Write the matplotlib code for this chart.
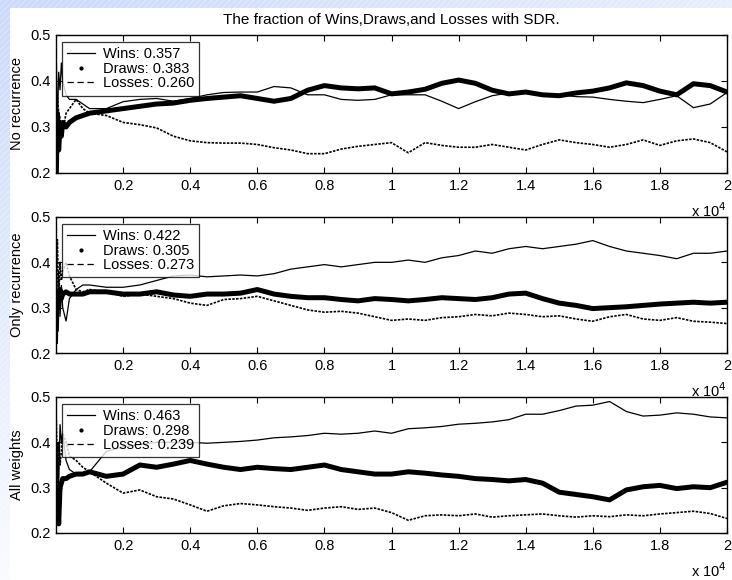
import numpy as np
import matplotlib
matplotlib.use("Agg")
import matplotlib.pyplot as plt
from matplotlib.lines import Line2D
from matplotlib.patches import Rectangle

# ---------------- data ----------------
games = [10, 40, 80, 120, 160, 200, 300, 400, 600, 800, 1000,
         1500, 2000, 2500, 3000, 3500, 4000, 4500, 5000, 5500, 6000,
         6500, 7000, 7500, 8000, 8500, 9000, 9500, 10000, 10500, 11000,
         11500, 12000, 12500, 13000, 13500, 14000, 14500, 15000, 15500, 16000,
         16500, 17000, 17500, 18000, 18500, 19000, 19500, 20000]

panel_names = ["No recurrence", "Only recurrence", "All weights"]
legend_wins = [0.357, 0.422, 0.463]
legend_draws = [0.383, 0.305, 0.298]
legend_losses = [0.260, 0.273, 0.239]

wins_no_rec = [0.45, 0.30, 0.42, 0.38, 0.44, 0.40, 0.37, 0.36, 0.36, 0.35, 0.34,
               0.34, 0.355, 0.36, 0.362, 0.356, 0.362, 0.37, 0.375, 0.376, 0.376,
               0.388, 0.385, 0.37, 0.37, 0.36, 0.358, 0.36, 0.37, 0.37, 0.37,
               0.356, 0.34, 0.355, 0.368, 0.374, 0.375, 0.372, 0.37, 0.366, 0.365,
               0.36, 0.356, 0.353, 0.36, 0.368, 0.342, 0.35, 0.375]
draws_no_rec = [0.20, 0.33, 0.25, 0.30, 0.28, 0.31, 0.30, 0.31, 0.32, 0.325, 0.33,
                0.335, 0.34, 0.345, 0.35, 0.352, 0.358, 0.362, 0.365, 0.368, 0.362,
                0.356, 0.362, 0.38, 0.39, 0.385, 0.383, 0.385, 0.372, 0.376, 0.382,
                0.395, 0.402, 0.395, 0.38, 0.372, 0.376, 0.37, 0.368, 0.374, 0.378,
                0.385, 0.396, 0.39, 0.378, 0.37, 0.394, 0.39, 0.376]
losses_no_rec = [0.35, 0.37, 0.33, 0.32, 0.28, 0.29, 0.33, 0.34, 0.36, 0.34, 0.33,
                 0.325, 0.31, 0.305, 0.298, 0.28, 0.27, 0.266, 0.265, 0.265, 0.262,
                 0.255, 0.25, 0.242, 0.242, 0.252, 0.258, 0.262, 0.266, 0.244, 0.266,
                 0.26, 0.256, 0.256, 0.262, 0.256, 0.25, 0.262, 0.272, 0.266, 0.262,
                 0.256, 0.262, 0.272, 0.26, 0.27, 0.274, 0.266, 0.246]

wins_only_rec = [0.42, 0.22, 0.38, 0.28, 0.35, 0.30, 0.27, 0.32, 0.34, 0.35, 0.35,
                 0.345, 0.345, 0.35, 0.36, 0.37, 0.372, 0.368, 0.37, 0.372, 0.37,
                 0.375, 0.385, 0.39, 0.395, 0.39, 0.395, 0.40, 0.40, 0.405, 0.40,
                 0.41, 0.415, 0.425, 0.42, 0.43, 0.435, 0.43, 0.435, 0.44, 0.448,
                 0.435, 0.425, 0.42, 0.415, 0.408, 0.42, 0.42, 0.425]
draws_only_rec = [0.25, 0.33, 0.30, 0.34, 0.32, 0.33, 0.335, 0.33, 0.33, 0.33, 0.335,
                  0.335, 0.33, 0.33, 0.335, 0.328, 0.325, 0.33, 0.33, 0.332, 0.34,
                  0.33, 0.325, 0.322, 0.322, 0.318, 0.315, 0.32, 0.318, 0.315, 0.318,
                  0.322, 0.32, 0.318, 0.322, 0.33, 0.332, 0.32, 0.31, 0.305, 0.298,
                  0.30, 0.302, 0.305, 0.308, 0.31, 0.312, 0.31, 0.312]
losses_only_rec = [0.33, 0.45, 0.32, 0.40, 0.36, 0.38, 0.40, 0.37, 0.34, 0.335, 0.34,
                   0.335, 0.325, 0.33, 0.325, 0.32, 0.31, 0.305, 0.318, 0.32, 0.325,
                   0.315, 0.305, 0.295, 0.29, 0.292, 0.288, 0.28, 0.272, 0.275, 0.272,
                   0.278, 0.28, 0.285, 0.282, 0.288, 0.285, 0.28, 0.282, 0.275, 0.27,
                   0.28, 0.285, 0.275, 0.272, 0.278, 0.27, 0.268, 0.265]

wins_all = [0.22, 0.40, 0.30, 0.44, 0.40, 0.42, 0.36, 0.34, 0.33, 0.33, 0.335,
            0.38, 0.39, 0.395, 0.40, 0.40, 0.40, 0.398, 0.40, 0.402, 0.405,
            0.41, 0.412, 0.415, 0.42, 0.418, 0.42, 0.425, 0.42, 0.43, 0.432,
            0.435, 0.44, 0.442, 0.445, 0.45, 0.462, 0.462, 0.47, 0.48, 0.482,
            0.49, 0.468, 0.458, 0.46, 0.465, 0.462, 0.456, 0.454]
draws_all = [0.25, 0.30, 0.22, 0.30, 0.31, 0.32, 0.32, 0.325, 0.33, 0.33, 0.335,
             0.325, 0.33, 0.35, 0.345, 0.352, 0.36, 0.352, 0.345, 0.34, 0.345,
             0.342, 0.34, 0.345, 0.35, 0.34, 0.335, 0.33, 0.33, 0.335, 0.332,
             0.328, 0.325, 0.32, 0.318, 0.315, 0.318, 0.31, 0.29, 0.285, 0.28,
             0.273, 0.295, 0.302, 0.305, 0.298, 0.302, 0.30, 0.312]
losses_all = [0.45, 0.30, 0.40, 0.35, 0.38, 0.42, 0.40, 0.37, 0.36, 0.345, 0.335,
              0.31, 0.288, 0.295, 0.28, 0.275, 0.262, 0.248, 0.26, 0.265, 0.262,
              0.258, 0.255, 0.25, 0.255, 0.258, 0.252, 0.255, 0.245, 0.228, 0.238,
              0.24, 0.238, 0.242, 0.235, 0.238, 0.24, 0.242, 0.238, 0.235, 0.238,
              0.236, 0.24, 0.238, 0.242, 0.245, 0.248, 0.243, 0.232]

wins_series = [wins_no_rec, wins_only_rec, wins_all]
draws_series = [draws_no_rec, draws_only_rec, draws_all]
losses_series = [losses_no_rec, losses_only_rec, losses_all]

xticks = [2000, 4000, 6000, 8000, 10000, 12000, 14000, 16000, 18000, 20000]
xtick_labels = ["0.2", "0.4", "0.6", "0.8", "1", "1.2", "1.4", "1.6", "1.8", "2"]
yticks = [0.2, 0.3, 0.4, 0.5]
ytick_labels = ["0.2", "0.3", "0.4", "0.5"]
title = "The fraction of Wins,Draws,and Losses with SDR."

# ---------------- figure ----------------
W, H = 732, 580
fig = plt.figure(figsize=(W / 100, H / 100), dpi=100)
plt.rcParams['font.family'] = ['Liberation Sans', 'DejaVu Sans']

# slide-like background (blue hatched strip top and left)
bg = fig.add_axes([0, 0, 1, 1], zorder=-10)
yy, xx = np.mgrid[0:H, 0:W]
stripe = ((xx + yy) // 3) % 2
t = np.clip(1.0 - 0.55 * xx / W - 0.9 * yy / H, 0.05, 1.0)
a = 0.55 * t * (0.8 + 0.2 * stripe)
blue = np.array([0.62, 0.72, 0.96])
img = (1 - a)[..., None] * np.ones(3) + a[..., None] * blue
bg.imshow(img, aspect='auto', extent=[0, W, H, 0])
bg.add_patch(Rectangle((10, 8), W, H, facecolor='white', edgecolor='none'))
bg.set_xlim(0, W)
bg.set_ylim(H, 0)
bg.axis('off')

left_px, right_px = 56, 727
tops = [35, 217, 397]
bottoms = [173, 353, 533]

fs = 10.5
for i in range(3):
    ax = fig.add_axes([left_px / W, 1 - bottoms[i] / H,
                       (right_px - left_px) / W, (bottoms[i] - tops[i]) / H])
    ax.plot(games, wins_series[i], color='black', lw=0.9, solid_joinstyle='miter')
    ax.plot(games, draws_series[i], color='black', lw=3.6, solid_capstyle='round')
    ax.plot(games, losses_series[i], color='black', lw=1.2, linestyle=(0, (1.5, 0.8)))
    ax.set_xlim(0, 20000)
    ax.set_ylim(0.2, 0.5)
    ax.set_xticks(xticks)
    ax.set_xticklabels(xtick_labels)
    ax.set_yticks(yticks)
    ax.set_yticklabels(ytick_labels)
    ax.tick_params(direction='in', length=4, width=0.8, top=True, right=True,
                   labelsize=fs, pad=4, colors='black')
    for sp in ax.spines.values():
        sp.set_linewidth(1.0)
        sp.set_color('black')
    ax.set_ylabel(panel_names[i], fontsize=fs)
    ax.yaxis.set_label_coords(-0.048, 0.5)
    ax.text(1.0, -0.205, r'x 10$^{4}$', transform=ax.transAxes, ha='right',
            va='top', fontsize=fs)

    handles = [Line2D([], [], color='black', lw=0.9),
               Line2D([], [], color='black', marker='.', markersize=4, ls='none'),
               Line2D([], [], color='black', lw=0.9, ls=(0, (5, 3)))]
    labels = ["Wins: %.3f" % legend_wins[i],
              "Draws: %.3f" % legend_draws[i],
              "Losses: %.3f" % legend_losses[i]]
    leg = ax.legend(handles, labels, loc='upper left', bbox_to_anchor=(0.009, 0.95),
                    borderaxespad=0, fontsize=fs, frameon=True, fancybox=False,
                    handlelength=1.9, handletextpad=0.55, labelspacing=0.05,
                    borderpad=0.35)
    leg.get_frame().set_edgecolor('black')
    leg.get_frame().set_linewidth(0.9)

fig.text((left_px + right_px) / 2 / W, 1 - 20 / H, title, ha='center',
         va='center', fontsize=11)

fig.savefig("out.png", dpi=100)
